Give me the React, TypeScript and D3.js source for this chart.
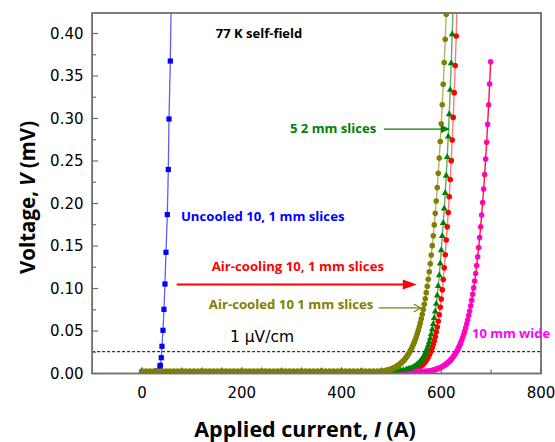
import React from "react";
import * as d3 from "d3";

type Pt = [number, number];

// Axis ticks
const xTickValues = [0, 200, 400, 600, 800];
const xMinorTickValues = [100, 300, 500, 700];
const yTickValues = [0, 0.05, 0.1, 0.15, 0.2, 0.25, 0.3, 0.35, 0.4];
const yMinorTickValues = [0.025, 0.075, 0.125, 0.175, 0.225, 0.275, 0.325, 0.375];

// 1 µV/cm criterion (mV)
const criterionVoltage = 0.02565;

// Uncooled 10, 1 mm slices (blue squares)
const uncooled: Pt[] = [
  [0, 0.002], [8, 0.002], [16, 0.002], [24, 0.002], [30, 0.003],
  [36.1, 0.008], [36.7, 0.0096], [38.7, 0.0186], [40.1, 0.032], [42.1, 0.0508],
  [44.1, 0.0755], [46.1, 0.1053], [48.1, 0.1426], [50.8, 0.187], [52.8, 0.24],
  [54.2, 0.2994], [56.8, 0.3676], [58.8, 0.452],
];

// Air-cooling 10, 1 mm slices (red circles)
const airCooling: Pt[] = [
  [0, 0.002], [40, 0.002], [80, 0.002], [120, 0.002], [160, 0.002], [200, 0.002],
  [240, 0.002], [280, 0.002], [320, 0.002], [360, 0.002], [400, 0.002], [440, 0.002],
  [470, 0.002], [480, 0.002], [488, 0.002], [496, 0.002], [504, 0.002], [512, 0.002],
  [520, 0.002], [528, 0.002], [532, 0.0022], [536, 0.0028], [540, 0.0039], [544, 0.0045],
  [548, 0.0053], [552, 0.0063], [556, 0.0075], [560, 0.0091], [562, 0.0101], [564, 0.0112],
  [566, 0.0125], [568, 0.0139], [570, 0.0155], [572, 0.0173], [574, 0.0194], [576, 0.0217],
  [578, 0.0243], [580, 0.0272], [582, 0.0306], [584, 0.0343], [586, 0.0385], [588, 0.0433],
  [590, 0.0487], [592, 0.0547], [594, 0.0615], [596, 0.0692], [598, 0.0778], [600, 0.0875],
  [602, 0.0984], [604, 0.1106], [606, 0.1243], [608, 0.1397], [610, 0.157], [612, 0.1725],
  [614, 0.1894], [616, 0.2079], [618, 0.2282], [620, 0.2504], [622, 0.2747], [624, 0.3013],
  [626, 0.3304], [628, 0.3623], [630, 0.3971], [632, 0.4351],
];

// 10 mm wide (magenta circles, red line)
const tenMmWide: Pt[] = [
  [0, 0.0025], [40, 0.0025], [80, 0.0025], [120, 0.0025], [160, 0.0025], [200, 0.0025],
  [240, 0.0025], [280, 0.0025], [320, 0.0025], [360, 0.0025], [400, 0.0025], [440, 0.0025],
  [480, 0.0025], [520, 0.0025], [532, 0.0025], [538, 0.0025], [544, 0.0025], [550, 0.0025],
  [556, 0.0025], [562, 0.0025], [567, 0.0025], [571, 0.0025], [573, 0.0026], [575, 0.0028],
  [577, 0.003], [579, 0.0032], [581, 0.0035], [583, 0.0038], [585, 0.0041], [587, 0.0044],
  [589, 0.0048], [591, 0.0052], [593, 0.0056], [595, 0.0061], [597, 0.0066], [599, 0.0071],
  [601, 0.0077], [603, 0.0084], [605, 0.0091], [607, 0.0098], [609, 0.0107], [611, 0.0116],
  [613, 0.0126], [615, 0.0136], [617, 0.0148], [619, 0.016], [621, 0.0174], [623, 0.0189],
  [625, 0.0205], [627, 0.0222], [629, 0.0241], [631, 0.0261], [633, 0.0283], [635, 0.0307],
  [637, 0.0332], [639, 0.036], [641, 0.039], [643, 0.0423], [645, 0.0458], [647, 0.0496],
  [649, 0.0537], [651, 0.0581], [653, 0.0629], [655, 0.0681], [657, 0.0736], [659, 0.0797],
  [661, 0.0861], [663, 0.0931], [665, 0.1007], [667, 0.1088], [669, 0.1176], [671, 0.127],
  [673, 0.1372], [675, 0.1482], [677, 0.16], [679, 0.1727], [681, 0.1864], [683, 0.2011],
  [685, 0.217], [687, 0.234], [689, 0.2524], [691, 0.2721], [693, 0.2933], [695, 0.3161],
  [697, 0.3405], [699, 0.3668],
];

// 5 2 mm slices (green triangles)
const fiveSlices: Pt[] = [
  [0, 0.003], [40, 0.003], [80, 0.003], [120, 0.003], [160, 0.003], [200, 0.003],
  [240, 0.003], [280, 0.003], [320, 0.003], [360, 0.003], [400, 0.003], [440, 0.003],
  [480, 0.003], [488, 0.003], [494, 0.003], [500, 0.003], [506, 0.003], [512, 0.0035],
  [518, 0.0038], [524, 0.0042], [530, 0.0049], [534, 0.0054], [538, 0.0061], [542, 0.007],
  [546, 0.0082], [550, 0.0098], [552, 0.0107], [554, 0.0117], [556, 0.0129], [558, 0.0142],
  [560, 0.0157], [562, 0.0174], [564, 0.0193], [566, 0.0214], [568, 0.0239], [570, 0.0266],
  [572, 0.0297], [574, 0.0331], [576, 0.037], [578, 0.0414], [580, 0.0464], [582, 0.0519],
  [584, 0.0582], [586, 0.0652], [588, 0.073], [590, 0.0819], [592, 0.0918], [594, 0.1029],
  [596, 0.1154], [598, 0.1294], [600, 0.145], [602, 0.1617], [604, 0.1771], [606, 0.194],
  [608, 0.2124], [610, 0.2326], [612, 0.2546], [614, 0.2787], [616, 0.305], [618, 0.3337],
  [620, 0.365], [622, 0.3991], [624, 0.4364],
];

// Air-cooled 10 1 mm slices (olive circles)
const airCooled: Pt[] = [
  [0, 0.003], [8, 0.003], [16, 0.003], [24, 0.003], [32, 0.003], [40, 0.003], [48, 0.003],
  [56, 0.003], [64, 0.003], [72, 0.003], [80, 0.003], [88, 0.003], [96, 0.003], [104, 0.003],
  [112, 0.003], [120, 0.003], [128, 0.003], [136, 0.003], [144, 0.003], [152, 0.003],
  [160, 0.003], [168, 0.003], [176, 0.003], [184, 0.003], [192, 0.003], [200, 0.003],
  [208, 0.003], [216, 0.003], [224, 0.003], [232, 0.003], [240, 0.003], [248, 0.003],
  [256, 0.003], [264, 0.003], [272, 0.003], [280, 0.003], [288, 0.003], [296, 0.003],
  [304, 0.003], [312, 0.003], [320, 0.003], [328, 0.003], [336, 0.003], [344, 0.003],
  [352, 0.003], [360, 0.003], [368, 0.003], [376, 0.003], [384, 0.003], [392, 0.003],
  [400, 0.003], [408, 0.003], [416, 0.003], [424, 0.003], [432, 0.003], [440, 0.003],
  [448, 0.003], [456, 0.003], [464, 0.003], [472, 0.003], [480, 0.003], [486, 0.0032],
  [490, 0.0035], [492, 0.0037], [494, 0.0041], [496, 0.0045], [498, 0.0049], [500, 0.0053],
  [502, 0.0058], [504, 0.0063], [506, 0.0069], [508, 0.0076], [510, 0.0082], [512, 0.009],
  [514, 0.0098], [516, 0.0106], [518, 0.0116], [520, 0.0126], [522, 0.0137], [524, 0.0149],
  [526, 0.0162], [528, 0.0177], [530, 0.0192], [532, 0.0208], [534, 0.0226], [536, 0.0246],
  [538, 0.0267], [540, 0.0289], [542, 0.0314], [544, 0.034], [546, 0.0369], [548, 0.04],
  [550, 0.0433], [552, 0.0469], [554, 0.0508], [556, 0.055], [558, 0.0595], [560, 0.0644],
  [562, 0.0697], [564, 0.0753], [566, 0.0814], [568, 0.088], [570, 0.0951], [572, 0.1027],
  [574, 0.1109], [576, 0.1197], [578, 0.1292], [580, 0.1394], [582, 0.1504], [584, 0.1621],
  [586, 0.1748], [588, 0.1884], [590, 0.203], [592, 0.2187], [594, 0.2356], [596, 0.2536],
  [598, 0.273], [600, 0.2938], [602, 0.3162], [604, 0.3402], [606, 0.3658], [608, 0.3933],
  [610, 0.4227], [612, 0.4544],
];

const W = 555;
const H = 442;
const X0 = 92.1, X1 = 541, Y0 = 373.5, Y1 = 13;

export default function App() {
  const x = d3.scaleLinear().domain([-100, 800]).range([X0, X1]);
  const y = d3.scaleLinear().domain([0, 0.4241]).range([Y0, Y1]);
  const line = d3.line<Pt>().x((d) => x(d[0])).y((d) => y(d[1]));
  const tri = d3.symbol().type(d3.symbolTriangle).size(20)() as string;
  const axisColor = "#6e6e6e";
  const tickFont = "'DejaVu Sans', sans-serif";
  const boldFont = "'Open Sans', sans-serif";

  const circles = (data: Pt[], fill: string, r = 2.8) =>
    data.map((d, i) => <circle key={i} cx={x(d[0])} cy={y(d[1])} r={r} fill={fill} />);

  return (
    <svg width={W} height={H} style={{ position: "absolute", left: 0, top: 0, background: "#fff" }}>
      <defs>
        <clipPath id="plot">
          <rect x={X0} y={Y1} width={X1 - X0} height={Y0 - Y1} />
        </clipPath>
      </defs>
      <rect x={0} y={0} width={W} height={H} fill="#fff" />

      {/* criterion line */}
      <line x1={X0} x2={X1} y1={y(criterionVoltage)} y2={y(criterionVoltage)} stroke="#000" strokeWidth={1} strokeDasharray="3,2" />

      <g clipPath="url(#plot)">
        {/* blue */}
        <path d={line(uncooled) || ""} fill="none" stroke="#5c5cff" strokeWidth={1.3} />
        {uncooled.map((d, i) => (
          <rect key={i} x={x(d[0]) - 2.6} y={y(d[1]) - 2.6} width={5.2} height={5.2} fill="#0000ff" />
        ))}
        {/* red */}
        <path d={line(airCooling) || ""} fill="none" stroke="#ff7a7a" strokeWidth={1.4} />
        {circles(airCooling, "#ff0000")}
        {/* magenta */}
        {circles(tenMmWide, "#ff00ff")}
        <path d={line(tenMmWide) || ""} fill="none" stroke="#ff1040" strokeWidth={1.4} />
        {/* green */}
        <path d={line(fiveSlices) || ""} fill="none" stroke="#5fae5f" strokeWidth={1.4} />
        {fiveSlices.map((d, i) => (
          <path key={i} d={tri} transform={`translate(${x(d[0])},${y(d[1])})`} fill="#008000" />
        ))}
        {/* olive */}
        <path d={line(airCooled) || ""} fill="none" stroke="#b0b068" strokeWidth={1.4} />
        {circles(airCooled, "#808000")}
      </g>

      {/* frame */}
      <rect x={X0} y={Y1} width={X1 - X0} height={Y0 - Y1} fill="none" stroke={axisColor} strokeWidth={1.8} />

      {/* ticks */}
      {yTickValues.map((v) => (
        <g key={"y" + v}>
          <line x1={X0} x2={X0 + 6} y1={y(v)} y2={y(v)} stroke={axisColor} strokeWidth={1.2} />
          <text x={83.5} y={y(v)} dy="0.36em" textAnchor="end" fontFamily={tickFont} fontSize={15} fill="#000">
            {d3.format(".2f")(v)}
          </text>
        </g>
      ))}
      {yMinorTickValues.map((v) => (
        <line key={"ym" + v} x1={X0} x2={X0 + 4} y1={y(v)} y2={y(v)} stroke={axisColor} strokeWidth={1.2} />
      ))}
      {xTickValues.map((v) => (
        <g key={"x" + v}>
          <line x1={x(v)} x2={x(v)} y1={Y0} y2={Y0 - 6} stroke={axisColor} strokeWidth={1.2} />
          <text x={x(v)} y={398} textAnchor="middle" fontFamily={tickFont} fontSize={15} fill="#000">
            {v}
          </text>
        </g>
      ))}
      {xMinorTickValues.map((v) => (
        <line key={"xm" + v} x1={x(v)} x2={x(v)} y1={Y0} y2={Y0 - 4} stroke={axisColor} strokeWidth={1.2} />
      ))}

      {/* axis titles */}
      <text x={305} y={437} textAnchor="middle" fontFamily={boldFont} fontWeight="bold" fontSize={21.5} fill="#000">
        Applied current, <tspan fontStyle="italic">I</tspan> (A)
      </text>
      <text transform={`translate(35,197.5) rotate(-90)`} textAnchor="middle" fontFamily={boldFont} fontWeight="bold" fontSize={20.5} fill="#000">
        Voltage, <tspan fontStyle="italic">V</tspan> (mV)
      </text>

      {/* annotations */}
      <text x={x(148)} y={y(0.395)} fontFamily={boldFont} fontWeight="bold" fontSize={13} fill="#000">77 K self-field</text>
      <text x={x(78)} y={y(0.1794)} fontFamily={boldFont} fontWeight="bold" fontSize={13.2} fill="#0000ff">Uncooled 10, 1 mm slices</text>
      <text x={x(139.7)} y={y(0.1206)} fontFamily={boldFont} fontWeight="bold" fontSize={13.2} fill="#ff0000">Air-cooling 10, 1 mm slices</text>
      <text x={x(134)} y={y(0.0753)} fontFamily={boldFont} fontWeight="bold" fontSize={13.2} fill="#808000">Air-cooled 10 1 mm slices</text>
      <text x={x(296.7)} y={y(0.2835)} fontFamily={boldFont} fontWeight="bold" fontSize={13.1} fill="#008000">5 2 mm slices</text>
      <text x={x(661.6)} y={y(0.0418)} fontFamily={boldFont} fontWeight="bold" fontSize={13} fill="#ff00ff">10 mm wide</text>
      <text x={x(176.4)} y={y(0.037)} fontFamily={tickFont} fontSize={15.5} fill="#000">1 μV/cm</text>

      {/* red arrow */}
      <line x1={x(69.6)} x2={x(551) - 12} y1={y(0.1047)} y2={y(0.1047)} stroke="#ff0000" strokeWidth={2} />
      <path d={`M${x(551)},${y(0.1047)}L${x(551) - 14},${y(0.1047) - 5}L${x(551) - 14},${y(0.1047) + 5}Z`} fill="#ff0000" />
      {/* olive arrow */}
      <line x1={x(474.6)} x2={x(559)} y1={y(0.0771)} y2={y(0.0771)} stroke="#808000" strokeWidth={1.2} />
      <path d={`M${x(559) - 7},${y(0.0771) - 4}L${x(559)},${y(0.0771)}L${x(559) - 7},${y(0.0771) + 4}`} fill="none" stroke="#808000" strokeWidth={1.2} />
      {/* green arrow */}
      <line x1={x(485)} x2={x(617.5) - 6} y1={y(0.2876)} y2={y(0.2876)} stroke="#008000" strokeWidth={1.2} />
      <path d={`M${x(617.5)},${y(0.2876)}L${x(617.5) - 9},${y(0.2876) - 4}L${x(617.5) - 9},${y(0.2876) + 4}Z`} fill="#008000" />
    </svg>
  );
}
